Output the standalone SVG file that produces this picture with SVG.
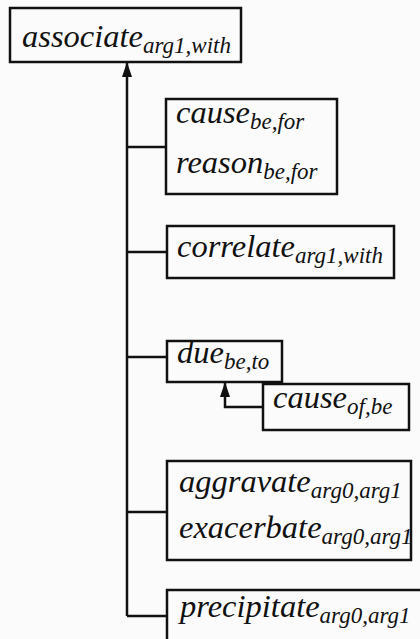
<svg xmlns="http://www.w3.org/2000/svg" width="420" height="639" viewBox="0 0 420 639">
<defs>
<style>
.box{fill:none;stroke:#111;stroke-width:2.5}
.ln{fill:none;stroke:#111;stroke-width:2.5}
text{font-family:'Liberation Serif','Times New Roman',serif;font-style:italic;font-size:32.5px;fill:#111}
tspan.s{font-size:23px}
</style>
<marker id="ah" viewBox="0 0 15 10" refX="14" refY="5" markerWidth="15" markerHeight="10" markerUnits="userSpaceOnUse" orient="auto">
<path d="M0,0 L15,5 L0,10 Z" fill="#111"/>
</marker>
</defs>
<rect width="420" height="639" fill="#fbfbfb"/>
<g id="connectors">
<path class="ln" d="M127,616 V63" marker-end="url(#ah)"/>
<path class="ln" d="M127,147 H166"/>
<path class="ln" d="M127,252 H167"/>
<path class="ln" d="M127,357 H167"/>
<path class="ln" d="M127,512 H167"/>
<path class="ln" d="M127,616 H167"/>
<path class="ln" d="M263,407 H225 V383" marker-end="url(#ah)"/>
</g>
<g id="associate">
<rect class="box" x="10" y="8" width="231" height="54"/>
<text x="22" y="47">associate<tspan class="s" dy="6">arg1,with</tspan></text>
</g>
<g id="cause-reason">
<rect class="box" x="166" y="99" width="171" height="95"/>
<text x="176" y="123">cause<tspan class="s" dy="6">be,for</tspan></text>
<text x="176" y="173">reason<tspan class="s" dy="6">be,for</tspan></text>
</g>
<g id="correlate">
<rect class="box" x="167" y="226" width="227" height="52"/>
<text x="177" y="257">correlate<tspan class="s" dy="6">arg1,with</tspan></text>
</g>
<g id="due">
<rect class="box" x="167" y="341" width="115" height="41"/>
<text x="177" y="363">due<tspan class="s" dy="6">be,to</tspan></text>
</g>
<g id="cause-of">
<rect class="box" x="263" y="384" width="146" height="46"/>
<text x="273" y="408">cause<tspan class="s" dy="6">of,be</tspan></text>
</g>
<g id="aggravate-exacerbate">
<rect class="box" x="167" y="461" width="244" height="99"/>
<text x="179" y="492">aggravate<tspan class="s" dy="6">arg0,arg1</tspan></text>
<text x="179" y="538">exacerbate<tspan class="s" dy="6">arg0,arg1</tspan></text>
</g>
<g id="precipitate">
<rect class="box" x="167" y="590" width="260" height="60"/>
<text x="180" y="617">precipitate<tspan class="s" dy="6">arg0,arg1</tspan></text>
</g>
</svg>
